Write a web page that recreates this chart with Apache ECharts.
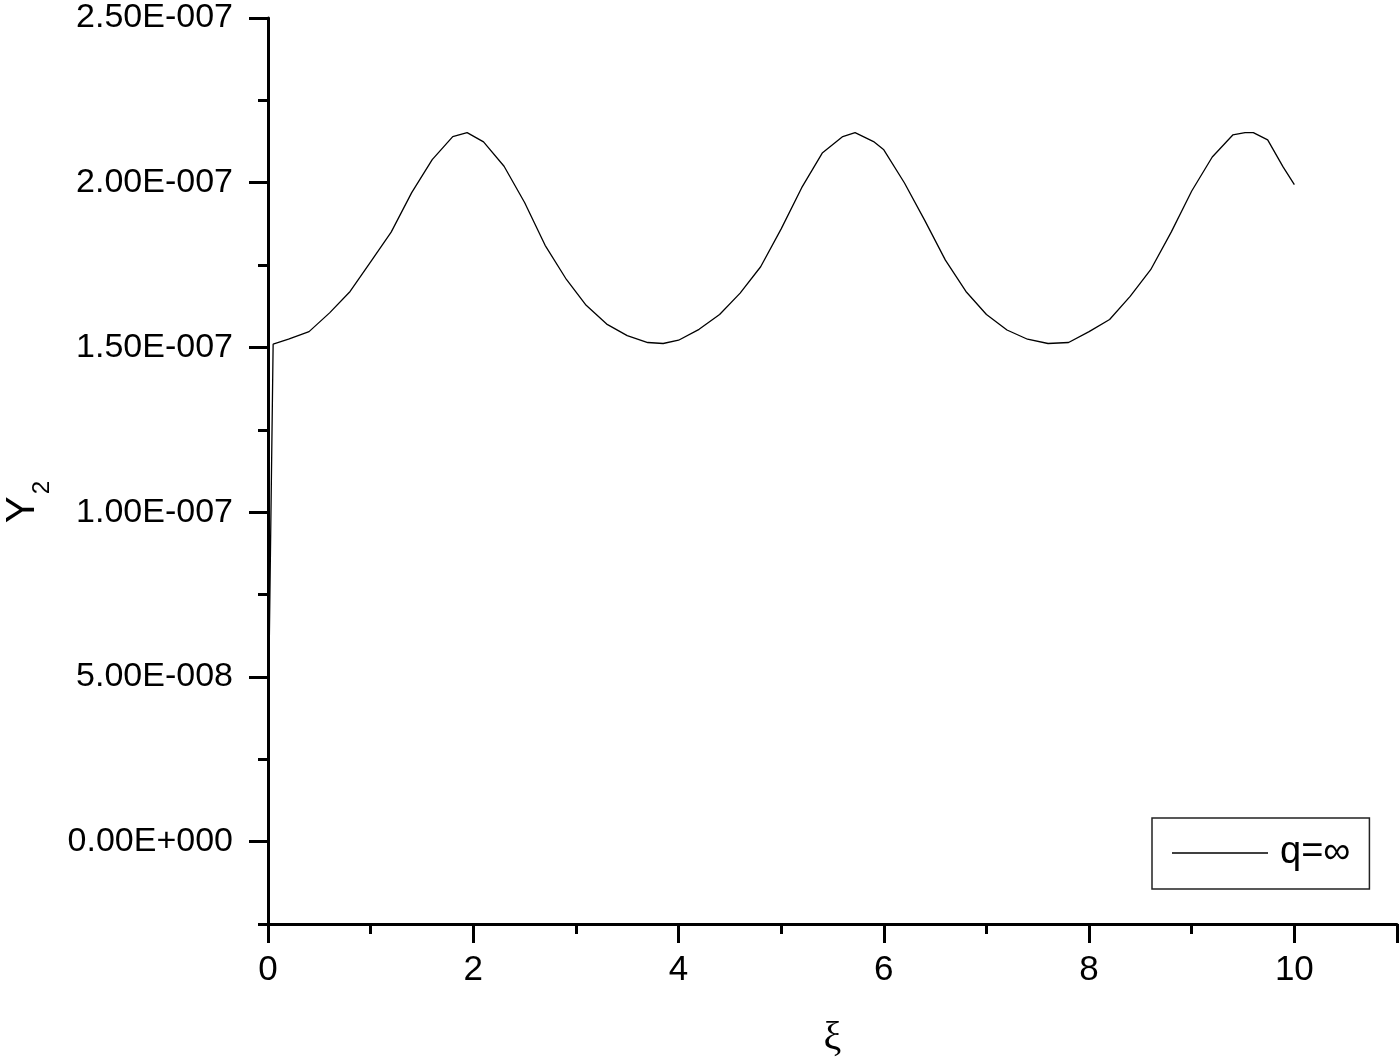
<!DOCTYPE html>
<html>
<head>
<meta charset="utf-8">
<title>Y2 vs xi</title>
<script src="https://cdn.jsdelivr.net/npm/echarts@6/dist/echarts.min.js"></script>
<style>
  html, body { margin: 0; padding: 0; background: #fff; }
  #chart { width: 1400px; height: 1058px; }
</style>
</head>
<body>
<div id="chart"></div>
<script>
// curve q=inf
const xi = [0, 0.05, 0.2, 0.4, 0.6, 0.8, 1.0, 1.2, 1.4, 1.6, 1.8, 1.94,
  2.1, 2.3, 2.5, 2.7, 2.9, 3.1, 3.3, 3.5, 3.7, 3.85, 4.0, 4.2, 4.4, 4.6,
  4.8, 5.0, 5.2, 5.4, 5.6, 5.72, 5.9, 6.0, 6.2, 6.4, 6.6, 6.8, 7.0, 7.2,
  7.4, 7.6, 7.8, 8.0, 8.2, 8.4, 8.6, 8.8, 9.0, 9.2, 9.4, 9.52, 9.6, 9.74,
  9.89, 10.0];
const y2 = [3.0e-8, 1.510e-7, 1.525e-7, 1.548e-7, 1.605e-7, 1.670e-7, 1.760e-7,
  1.850e-7, 1.970e-7, 2.070e-7, 2.140e-7, 2.152e-7,
  2.124e-7, 2.050e-7, 1.940e-7, 1.810e-7, 1.710e-7, 1.628e-7, 1.571e-7, 1.536e-7,
  1.515e-7, 1.512e-7, 1.522e-7, 1.555e-7, 1.600e-7, 1.665e-7,
  1.745e-7, 1.860e-7, 1.985e-7, 2.090e-7, 2.140e-7, 2.152e-7, 2.125e-7, 2.100e-7,
  2.000e-7, 1.885e-7, 1.765e-7, 1.670e-7, 1.600e-7, 1.553e-7,
  1.525e-7, 1.512e-7, 1.515e-7, 1.548e-7, 1.585e-7, 1.655e-7, 1.736e-7, 1.850e-7,
  1.975e-7, 2.078e-7, 2.145e-7, 2.152e-7, 2.152e-7, 2.130e-7,
  2.048e-7, 1.994e-7];

const xTicks = [0, 2, 4, 6, 8, 10];
const yTicks = [0, 5e-8, 1e-7, 1.5e-7, 2e-7, 2.5e-7];

const font = "'Liberation Sans', Arial, sans-serif";

function sci(v) {
  const parts = v.toExponential(2).split('e');
  const sign = parts[1][0];
  const exp = parts[1].slice(1).padStart(3, '0');
  return parts[0] + 'E' + sign + exp;
}

const chart = echarts.init(document.getElementById('chart'));

const axisLine = { show: true, onZero: false, lineStyle: { color: '#000', width: 3 } };

const option = {
  animation: false,
  backgroundColor: '#fff',
  grid: { left: 268, right: 3, top: 18, bottom: 134, outerBoundsMode: 'none' },
  legend: {
    data: ['q=∞'],
    left: 1152,
    top: 818,
    orient: 'horizontal',
    borderColor: '#222',
    borderWidth: 1.5,
    padding: [15, 19, 16, 20],
    icon: 'rect',
    itemWidth: 96,
    itemHeight: 1.3,
    itemStyle: { color: '#000' },
    textStyle: { fontFamily: font, fontSize: 38, color: '#000', lineHeight: 40, padding: [0, 0, 0, 7] }
  },
  xAxis: {
    type: 'value', min: 0, max: 11, interval: 2,
    axisLine: axisLine,
    axisTick: { length: 19, lineStyle: { color: '#000', width: 3 } },
    minorTick: { show: true, splitNumber: 2, length: 10, lineStyle: { color: '#000', width: 3 } },
    axisLabel: {
      fontFamily: font, fontSize: 35, color: '#000', margin: 29,
      showMaxLabel: false,
      formatter: v => (xTicks.indexOf(v) >= 0 ? String(v) : '')
    },
    splitLine: { show: false },
    minorSplitLine: { show: false },
    name: 'ξ',
    nameLocation: 'middle',
    nameGap: 94,
    nameTextStyle: { fontFamily: "'Liberation Serif', serif", fontSize: 40, color: '#000' }
  },
  yAxis: [
    {
      type: 'value', min: -2.5e-8, max: 2.5e-7, interval: 2.5e-8,
      axisLine: axisLine,
      axisTick: { length: 10, lineStyle: { color: '#000', width: 3 } },
      axisLabel: { show: false },
      splitLine: { show: false }
    },
    {
      type: 'value', min: -2.5e-8, max: 2.5e-7, interval: 2.5e-8, position: 'left',
      axisLine: { show: false, onZero: false },
      axisTick: { customValues: yTicks, length: 19, lineStyle: { color: '#000', width: 3 } },
      axisLabel: {
        customValues: yTicks, fontFamily: font, fontSize: 34, color: '#000', margin: 35,
        formatter: sci
      },
      splitLine: { show: false },
      name: '{y|Y}{s|2}',
      nameLocation: 'middle',
      nameGap: 225,
      nameRotate: 90,
      nameTextStyle: {
        fontFamily: font, color: '#000',
        padding: [0, 62, 0, 0],
        rich: {
          y: { fontFamily: font, fontSize: 40, lineHeight: 40, verticalAlign: 'top' },
          s: { fontFamily: font, fontSize: 24, lineHeight: 24, verticalAlign: 'top', padding: [27, 0, 0, 2] }
        }
      }
    }
  ],
  series: [
    {
      name: 'q=∞',
      type: 'line',
      xAxisIndex: 0,
      yAxisIndex: 0,
      data: xi.map((x, i) => [x, y2[i]]),
      symbol: 'none',
      lineStyle: { color: '#000', width: 1.3 },
      itemStyle: { color: '#000' }
    }
  ]
};

chart.setOption(option);
</script>
</body>
</html>
